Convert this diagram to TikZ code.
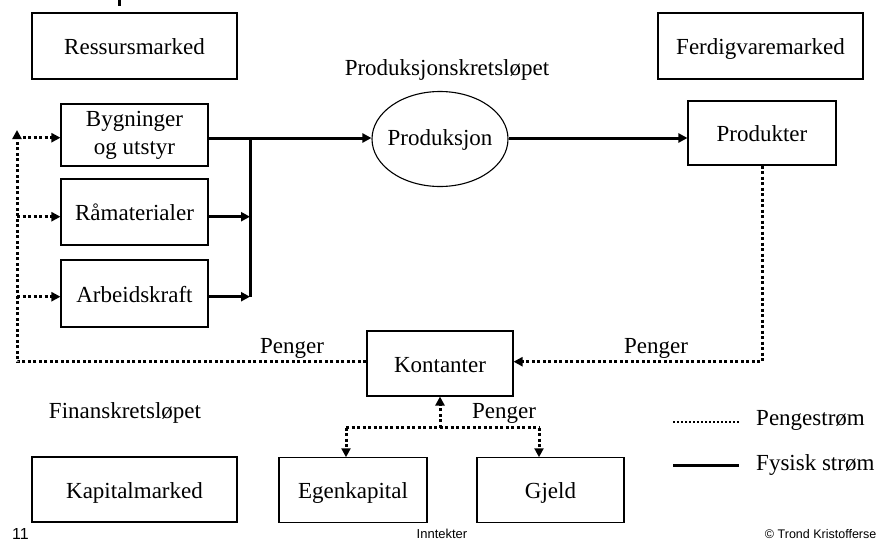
\documentclass[tikz,border=0pt]{standalone}
\usepackage{fontspec}
\setmainfont{Liberation Serif}
\newfontfamily\footfont{Liberation Sans}
\usetikzlibrary{arrows.meta,shapes.geometric}
\begin{document}
\begin{tikzpicture}[x=1pt,y=-1pt,
  box/.style={draw, line width=1.1pt, inner sep=0pt,
    font=\fontsize{23}{27}\selectfont, text height=19.8pt, text depth=2.8pt},
  txt/.style={inner sep=0pt, font=\fontsize{23}{27}\selectfont},
  foot/.style={inner sep=0pt, font=\footfont\fontsize{13}{15}\selectfont},
  phys/.style={line width=3pt},
  money/.style={line width=3pt, dash pattern=on 3pt off 2.5pt},
  tip/.style={-{Triangle[length=9pt,width=9pt]}},
]
\useasboundingbox (0,0) rectangle (877,541);

% remnant of the heading above the picture
\fill (118.3,0) rectangle (121,6);

% markets and resources
\node[box, minimum width=205, minimum height=66] (ress) at (134.5,46) {Ressursmarked};
\node[box, minimum width=205, minimum height=66] (ferd) at (760.5,46) {Ferdigvaremarked};
\node[txt, anchor=base] (prodkr) at (447,75) {Produksjonskretsløpet};

\node[box, minimum width=147, minimum height=62] (byg) at (134.5,135) {};
\node[txt, anchor=base] (bygA) at (134.5,126.5) {Bygninger};
\node[txt, anchor=base] (bygB) at (134.5,154) {og utstyr};
\node[box, minimum width=147, minimum height=66] (ram) at (134.5,212) {Råmaterialer};
\node[box, minimum width=147, minimum height=67] (arb) at (134.5,293.5) {Arbeidskraft};

\node[draw, ellipse, line width=1.1pt, inner sep=0pt,
      minimum width=136, minimum height=95] (prod) at (440,139) {};
\node[txt, anchor=base] (prodtxt) at (440,145.5) {Produksjon};

\node[box, minimum width=148, minimum height=64] (produkter) at (762,133) {Produkter};

% finance
\node[box, minimum width=146, minimum height=65] (kont) at (440,363.5) {Kontanter};
\node[box, minimum width=148, minimum height=65] (egen) at (353,490.3) {Egenkapital};
\node[box, minimum width=147, minimum height=65] (gjeld) at (550.5,490.3) {Gjeld};
\node[box, minimum width=205, minimum height=65] (kap) at (134.5,489.5) {Kapitalmarked};
\node[txt, anchor=base] (finkr) at (125,418) {Finanskretsløpet};

% physical flow
\coordinate (busT) at (250,138);
\coordinate (busB) at (250,296.7);
\coordinate (ramIn) at (250,216.7);
\coordinate (prodL) at (prod.west |- busT);
\draw[phys] (busT) -- (busB);
\draw[phys,tip] (byg.east |- busT) -- (prodL);
\draw[phys,tip] (ram.east |- ramIn) -- (ramIn);
\draw[phys,tip] (arb.east |- busB) -- (busB);
\draw[phys,tip] (prod.east |- busT) -- (produkter.west |- busT);

% money flow
\coordinate (kontR) at ([yshift=1.8pt]kont.east);
\coordinate (kontL) at ([yshift=1.8pt]kont.west);
\draw[money,tip] (produkter.south) |- (kontR);
\coordinate (lbot) at (17,361.7);
\coordinate (ltop) at (17,130);
\draw[money,tip] (kontL) -- (lbot) -- (ltop);
\coordinate (bygIn) at ([yshift=-2.7pt]byg.west);
\coordinate (ramL) at ([yshift=-4.7pt]ram.west);
\coordinate (arbL) at ([yshift=-3.2pt]arb.west);
\draw[money,tip] (lbot |- bygIn) -- (bygIn);
\draw[money,tip] (lbot |- ramL) -- (ramL);
\draw[money,tip] (lbot |- arbL) -- (arbL);

\coordinate (fork) at (440,427.7);
\coordinate (forkL) at (346,427.7);
\coordinate (forkR) at (539,427.7);
\draw[money,tip] (fork) -- (kont.south);
\draw[money] (forkL) -- (forkR);
\draw[money,tip] (forkL) -- (forkL |- egen.north);
\draw[money,tip] (forkR) -- (forkR |- gjeld.north);

\node[txt, anchor=base] (pengerL) at (292,353) {Penger};
\node[txt, anchor=base] (pengerR) at (656,353) {Penger};
\node[txt, anchor=base] (pengerB) at (504,418) {Penger};

% legend
\coordinate (lgA1) at (673,421.7);
\coordinate (lgA2) at (739,421.7);
\coordinate (lgB1) at (673,465);
\coordinate (lgB2) at (739,465);
\draw[line width=2pt, dash pattern=on 2pt off 2pt] (lgA1) -- (lgA2);
\draw[phys] (lgB1) -- (lgB2);
\node[txt, anchor=base west] (lgA) at (756,425) {Pengestrøm};
\node[txt, anchor=base west] (lgB) at (756,470) {Fysisk strøm};

% footer
\node[inner sep=0pt, anchor=base west, font=\footfont\fontsize{16}{18}\selectfont] (pg) at (12,539.3) {11};
\node[foot, anchor=base] (ftitle) at (442,538) {Inntekter};
\node[inner sep=0pt, anchor=base east, font=\footfont\fontsize{12.5}{15}\selectfont] (copy) at (876.5,538) {© Trond Kristofferse};
\end{tikzpicture}
\end{document}
